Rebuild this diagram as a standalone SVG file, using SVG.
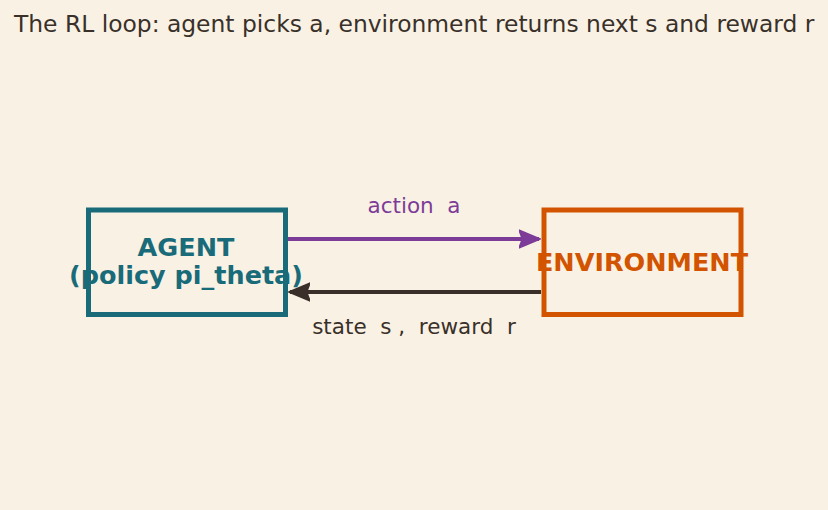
<svg xmlns="http://www.w3.org/2000/svg" width="828" height="510" viewBox="0 0 828 510">
<defs>
<style>
.t{font-family:"DejaVu Sans",sans-serif;font-size:23.4px;fill:#3a302a}
.lbl{font-family:"DejaVu Sans",sans-serif;font-size:21.5px;text-anchor:middle;white-space:pre}
.nt{font-family:"DejaVu Sans",sans-serif;font-size:25.5px;font-weight:bold;text-anchor:middle}
.box{fill:none;stroke-width:5}
</style>
<marker id="ap" viewBox="0 0 10 10" refX="9" refY="5" markerWidth="5.5" markerHeight="5.5" orient="auto" markerUnits="strokeWidth"><path d="M0,1 L9.5,5 L0,9 L1.5,5 z" fill="#7d3c98" stroke="#7d3c98" stroke-width="0.8" stroke-linejoin="round"/></marker>
<marker id="ad" viewBox="0 0 10 10" refX="9" refY="5" markerWidth="5.5" markerHeight="5.5" orient="auto" markerUnits="strokeWidth"><path d="M0,1 L9.5,5 L0,9 L1.5,5 z" fill="#3b2f2a" stroke="#3b2f2a" stroke-width="0.8" stroke-linejoin="round"/></marker>
</defs>
<rect width="828" height="510" fill="#f9f2e4"/>
<text class="t" x="14" y="32">The RL loop: agent picks a, environment returns next s and reward r</text>
<g id="agent">
<rect class="box" x="88.5" y="210" width="197" height="104.5" stroke="#1a6b7a"/>
<text class="nt" x="186" y="256" fill="#1a6b7a">AGENT</text>
<text class="nt" x="186" y="284" fill="#1a6b7a">(policy pi_theta)</text>
</g>
<g id="environment">
<rect class="box" x="544" y="210" width="197" height="104.5" stroke="#d35400"/>
<text class="nt" x="642" y="271" fill="#d35400">ENVIRONMENT</text>
</g>
<g id="connectors">
<line x1="288" y1="239" x2="539" y2="239" stroke="#7d3c98" stroke-width="4" marker-end="url(#ap)"/>
<text class="lbl" x="414" y="213" fill="#7d3c98" xml:space="preserve">action  a</text>
<line x1="541" y1="292" x2="290" y2="292" stroke="#3b2f2a" stroke-width="4" marker-end="url(#ad)"/>
<text class="lbl" x="414" y="334" fill="#3a302a" xml:space="preserve">state  s ,  reward  r</text>
</g>
</svg>
